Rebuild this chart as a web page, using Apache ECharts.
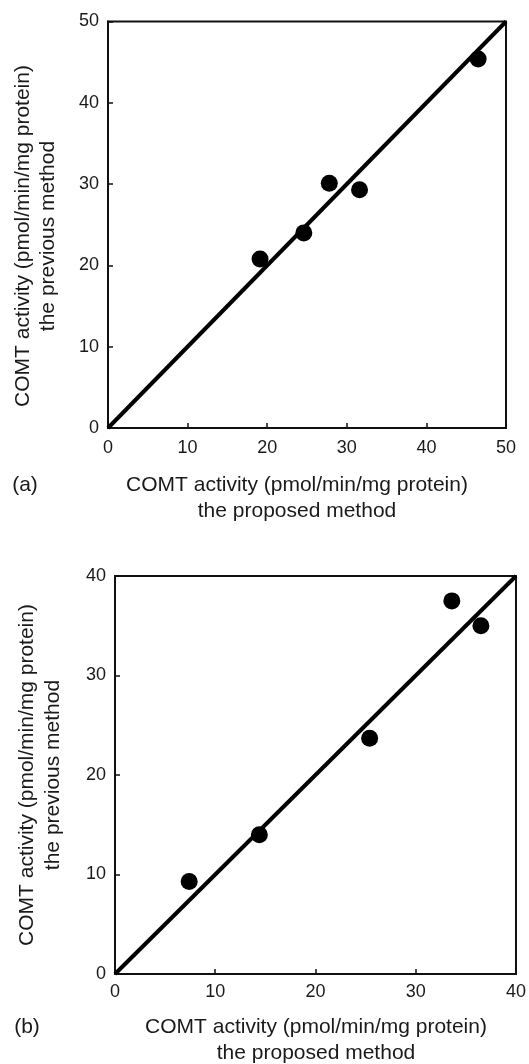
<!DOCTYPE html>
<html><head><meta charset="utf-8">
<script src="https://cdn.jsdelivr.net/npm/echarts@6/dist/echarts.min.js"></script>
<style>html,body{margin:0;padding:0;background:#fff}#c{width:529px;height:1064px}</style>
</head><body><div id="c"></div>
<script>
// Panel (a)
var aProposed = [19.1, 24.6, 27.8, 31.6, 46.5];
var aPrevious = [20.8, 24.0, 30.1, 29.3, 45.4];
var aLine = [[0, 0], [50, 50]];
var aTicks = [0, 10, 20, 30, 40, 50];
// Panel (b)
var bProposed = [7.4, 14.4, 25.4, 33.6, 36.5];
var bPrevious = [9.3, 14.0, 23.7, 37.5, 35.0];
var bLine = [[0, 0], [40, 40]];
var bTicks = [0, 10, 20, 30, 40];

var xTitle = 'COMT activity (pmol/min/mg protein)\nthe proposed method';
var yTitle = 'COMT activity (pmol/min/mg protein)\nthe previous method';

function pairs(xs, ys) { return xs.map(function (x, i) { return [x, ys[i]]; }); }

var FONT = 'Liberation Sans, Arial, sans-serif';
function axis(gi, ticks, fs, margin) {
  return {
    type: 'value', gridIndex: gi,
    min: ticks[0], max: ticks[ticks.length - 1], interval: ticks[1] - ticks[0],
    axisLine: { show: true, lineStyle: { color: '#111', width: 2 } },
    axisTick: { show: true, inside: true, length: 5, lineStyle: { color: '#111', width: 1.5 } },
    axisLabel: { color: '#1a1a1a', fontSize: fs, fontFamily: FONT, margin: margin },
    splitLine: { show: false }
  };
}

var chart = echarts.init(document.getElementById('c'));
chart.setOption({
  animation: false,
  backgroundColor: '#fff',
  grid: [
    { left: 108, top: 21.5, width: 398, height: 406.5, show: true, borderColor: '#111', borderWidth: 2 },
    { left: 115, top: 576, width: 402, height: 398, show: true, borderColor: '#111', borderWidth: 2 }
  ],
  xAxis: [axis(0, aTicks, 18, 11), axis(1, bTicks, 18, 9)],
  yAxis: [axis(0, aTicks, 18, 9), axis(1, bTicks, 18, 9)],
  series: [
    { type: 'line', xAxisIndex: 0, yAxisIndex: 0, data: aLine, showSymbol: false, symbol: 'none',
      lineStyle: { color: '#000', width: 4 }, silent: true },
    { type: 'scatter', xAxisIndex: 0, yAxisIndex: 0, data: pairs(aProposed, aPrevious),
      symbolSize: 17, itemStyle: { color: '#000', opacity: 1 } },
    { type: 'line', xAxisIndex: 1, yAxisIndex: 1, data: bLine, showSymbol: false, symbol: 'none',
      lineStyle: { color: '#000', width: 4 }, silent: true },
    { type: 'scatter', xAxisIndex: 1, yAxisIndex: 1, data: pairs(bProposed, bPrevious),
      symbolSize: 17, itemStyle: { color: '#000', opacity: 1 } }
  ],
  graphic: [
    { type: 'text', x: 297, y: 498, style: { text: xTitle, font: '21px ' + FONT, fill: '#1a1a1a', align: 'center', verticalAlign: 'middle', lineHeight: 25.5 } },
    { type: 'text', x: 35.5, y: 236, rotation: Math.PI / 2, style: { text: yTitle, font: '21px ' + FONT, fill: '#1a1a1a', align: 'center', verticalAlign: 'middle', lineHeight: 25 } },
    { type: 'text', x: 25, y: 485, style: { text: '(a)', font: '21px ' + FONT, fill: '#1a1a1a', align: 'center', verticalAlign: 'middle' } },
    { type: 'text', x: 316, y: 1040, style: { text: xTitle, font: '21px ' + FONT, fill: '#1a1a1a', align: 'center', verticalAlign: 'middle', lineHeight: 26 } },
    { type: 'text', x: 40.5, y: 775, rotation: Math.PI / 2, style: { text: yTitle, font: '21px ' + FONT, fill: '#1a1a1a', align: 'center', verticalAlign: 'middle', lineHeight: 26 } },
    { type: 'text', x: 27, y: 1027, style: { text: '(b)', font: '21px ' + FONT, fill: '#1a1a1a', align: 'center', verticalAlign: 'middle' } }
  ]
});
</script></body></html>
